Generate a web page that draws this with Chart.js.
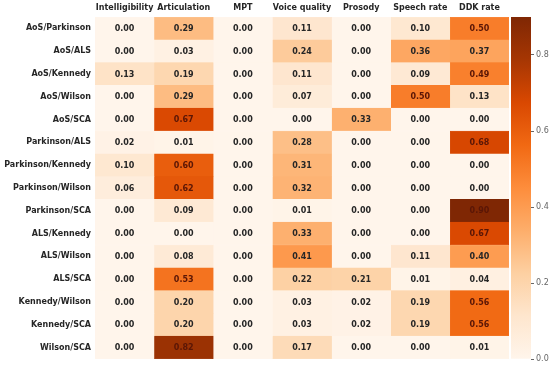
<!DOCTYPE html>
<html>
<head>
<meta charset="utf-8">
<script src="https://cdn.jsdelivr.net/npm/chart.js@4"></script>
<style>
  html, body { margin: 0; padding: 0; background: #fff; }
  #wrap { position: relative; width: 550px; height: 368px; }
  #wrap canvas { position: absolute; left: 0; top: 0; }
</style>
</head>
<body>
<div id="wrap">
  <canvas id="heatChart" width="550" height="368"></canvas>
  <canvas id="barChart" width="550" height="368"></canvas>
</div>
<script>
var rows = ['AoS/Parkinson', 'AoS/ALS', 'AoS/Kennedy', 'AoS/Wilson', 'AoS/SCA',
    'Parkinson/ALS', 'Parkinson/Kennedy', 'Parkinson/Wilson', 'Parkinson/SCA',
    'ALS/Kennedy', 'ALS/Wilson', 'ALS/SCA', 'Kennedy/Wilson', 'Kennedy/SCA', 'Wilson/SCA'];
var cols = ['Intelligibility', 'Articulation', 'MPT', 'Voice quality', 'Prosody', 'Speech rate', 'DDK rate'];

var intelligibility = [0.00, 0.00, 0.13, 0.00, 0.00, 0.02, 0.10, 0.06, 0.00, 0.00, 0.00, 0.00, 0.00, 0.00, 0.00];
var articulation    = [0.29, 0.03, 0.19, 0.29, 0.67, 0.01, 0.60, 0.62, 0.09, 0.00, 0.08, 0.53, 0.20, 0.20, 0.82];
var mpt             = [0.00, 0.00, 0.00, 0.00, 0.00, 0.00, 0.00, 0.00, 0.00, 0.00, 0.00, 0.00, 0.00, 0.00, 0.00];
var voiceQuality    = [0.11, 0.24, 0.11, 0.07, 0.00, 0.28, 0.31, 0.32, 0.01, 0.33, 0.41, 0.22, 0.03, 0.03, 0.17];
var prosody         = [0.00, 0.00, 0.00, 0.00, 0.33, 0.00, 0.00, 0.00, 0.00, 0.00, 0.00, 0.21, 0.02, 0.02, 0.00];
var speechRate      = [0.10, 0.36, 0.09, 0.50, 0.00, 0.00, 0.00, 0.00, 0.00, 0.00, 0.11, 0.01, 0.19, 0.19, 0.00];
var ddkRate         = [0.50, 0.37, 0.49, 0.13, 0.00, 0.68, 0.00, 0.00, 0.90, 0.67, 0.40, 0.04, 0.56, 0.56, 0.01];

var colorMax = 0.9;
var colorbarTicks = [0, 0.2, 0.4, 0.6, 0.8];

// matplotlib "Oranges"
var oranges = ['#fff5eb', '#fee6ce', '#fdd0a2', '#fdae6b', '#fd8d3c', '#f16913', '#d94801', '#a63603', '#7f2704'];

function hexToRgb(h) {
    return [parseInt(h.substr(1, 2), 16), parseInt(h.substr(3, 2), 16), parseInt(h.substr(5, 2), 16)];
}

function colorFor(v) {
    var t = Math.max(0, Math.min(1, v / colorMax)) * (oranges.length - 1);
    var i = Math.min(Math.floor(t), oranges.length - 2);
    var f = t - i;
    var a = hexToRgb(oranges[i]), b = hexToRgb(oranges[i + 1]);
    var c = a.map(function(x, k) { return Math.round(x + (b[k] - x) * f); });
    return 'rgb(' + c.join(',') + ')';
}

var columns = [intelligibility, articulation, mpt, voiceQuality, prosody, speechRate, ddkRate];

var datasets = columns.map(function(vals, j) {
    return {
        label: cols[j],
        data: rows.map(function() { return [j, j + 1]; }),
        values: vals,
        backgroundColor: vals.map(colorFor),
        borderColor: vals.map(colorFor),
        borderWidth: 0.5,
        borderSkipped: false,
        barPercentage: 1,
        categoryPercentage: 1,
        grouped: false
    };
});

var cellText = {
    id: 'cellText',
    afterDatasetsDraw: function(chart) {
        var ctx = chart.ctx;
        ctx.save();
        ctx.font = 'bold 8px "DejaVu Sans"';
        ctx.textAlign = 'center';
        ctx.textBaseline = 'middle';
        chart.data.datasets.forEach(function(ds, j) {
            chart.getDatasetMeta(j).data.forEach(function(bar, i) {
                var v = ds.values[i];
                var x = (bar.x + bar.base) / 2;
                ctx.fillStyle = v > 0.45 ? '#5a1606' : '#262626';
                ctx.fillText(v.toFixed(2), x, bar.y + 0.5);
            });
        });
        ctx.restore();
    }
};

var font = { family: '"DejaVu Sans"', size: 8, weight: 'bold' };

new Chart(document.getElementById('heatChart'), {
    type: 'bar',
    data: { labels: rows, datasets: datasets },
    options: {
        indexAxis: 'y',
        responsive: false,
        animation: false,
        layout: { padding: { left: 0, top: 0, right: 41, bottom: 9 } },
        plugins: { legend: { display: false }, tooltip: { enabled: false } },
        scales: {
            x: {
                type: 'linear',
                position: 'top',
                min: 0,
                max: cols.length,
                grid: { display: false, tickLength: 0 },
                border: { display: false },
                afterBuildTicks: function(scale) {
                    scale.ticks = cols.map(function(c, i) { return { value: i + 0.5 }; });
                },
                afterFit: function(scale) { scale.height = 17; },
                ticks: {
                    autoSkip: false,
                    maxRotation: 0,
                    padding: 4,
                    color: '#262626',
                    font: font,
                    callback: function(v, i) { return cols[i]; }
                }
            },
            y: {
                type: 'category',
                grid: { display: false, tickLength: 0 },
                border: { display: false },
                afterFit: function(scale) { scale.width = 95; },
                ticks: { padding: 4, color: '#262626', font: font }
            }
        }
    },
    plugins: [cellText]
});

new Chart(document.getElementById('barChart'), {
    type: 'bar',
    data: {
        labels: [''],
        datasets: [{
            data: [[0, colorMax]],
            barPercentage: 1,
            categoryPercentage: 1,
            borderWidth: 0,
            backgroundColor: function(context) {
                var area = context.chart.chartArea;
                if (!area) return oranges[4];
                var g = context.chart.ctx.createLinearGradient(0, area.bottom, 0, area.top);
                oranges.forEach(function(c, k) { g.addColorStop(k / (oranges.length - 1), c); });
                return g;
            }
        }]
    },
    options: {
        responsive: false,
        animation: false,
        layout: { padding: { left: 511, top: 17, right: 0, bottom: 9 } },
        plugins: { legend: { display: false }, tooltip: { enabled: false } },
        scales: {
            x: { display: false },
            y: {
                position: 'right',
                min: 0,
                max: colorMax,
                grid: { display: true, drawOnChartArea: false, tickLength: 3, color: '#666' },
                border: { display: false },
                afterBuildTicks: function(scale) {
                    scale.ticks = colorbarTicks.map(function(v) { return { value: v }; });
                },
                afterFit: function(scale) { scale.width = 19; },
                ticks: {
                    padding: 2,
                    color: '#666',
                    font: { family: '"DejaVu Sans"', size: 8 },
                    callback: function(v) { return v.toFixed(1); }
                }
            }
        }
    }
});
</script>
</body>
</html>
